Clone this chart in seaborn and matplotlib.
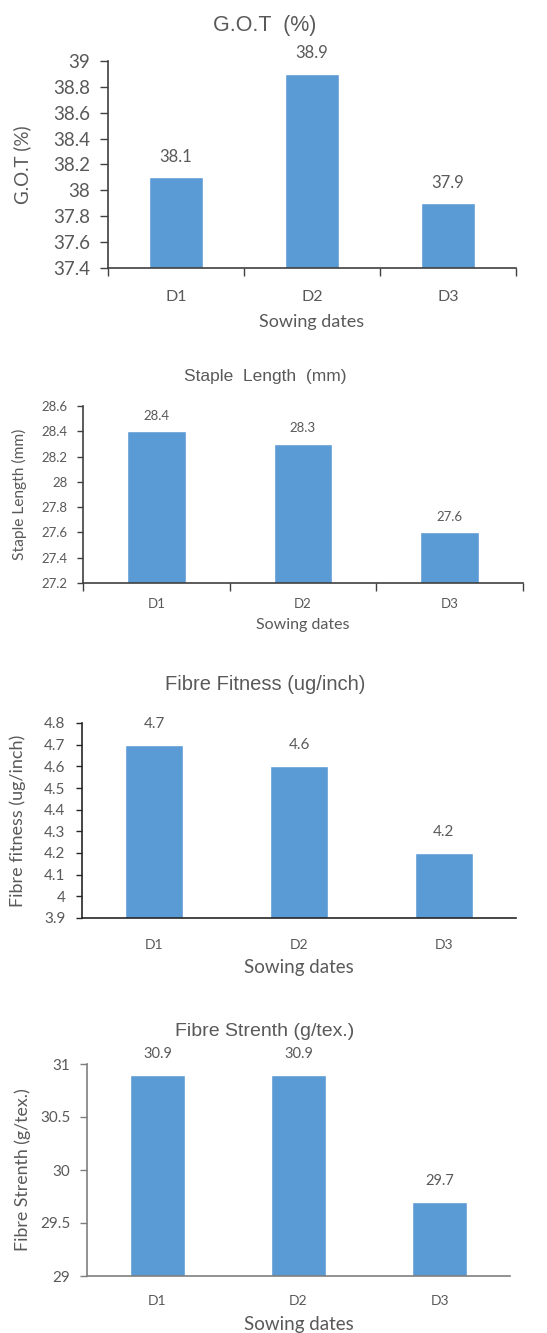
import matplotlib
matplotlib.use('Agg')
from matplotlib import pyplot as plt
import seaborn as sns
import pandas as pd

# ---------- DATA ----------
dates = ['D1', 'D2', 'D3']
got = [38.1, 38.9, 37.9]
staple = [28.4, 28.3, 27.6]
fitness = [4.7, 4.6, 4.2]
strength = [30.9, 30.9, 29.7]

got_ticks = [37.4, 37.6, 37.8, 38, 38.2, 38.4, 38.6, 38.8, 39]
staple_ticks = [27.2, 27.4, 27.6, 27.8, 28, 28.2, 28.4, 28.6]
fitness_ticks = [3.9, 4, 4.1, 4.2, 4.3, 4.4, 4.5, 4.6, 4.7, 4.8]
strength_ticks = [29, 29.5, 30, 30.5, 31]

BAR = '#5B9BD5'
TXT = '#595959'

sns.set_theme(style='white')
plt.rcParams['font.family'] = ['Lato', 'DejaVu Sans']

fig = plt.figure(figsize=(5.47, 13.33), dpi=100)
W, H = 547, 1333


def fmt(v):
    return f'{v:g}'


def panel(box, values, ticks, title, ylabel, title_y, o):
    # box in pixels: left, right, top, bottom
    l, r, t, b = box
    ax = fig.add_axes([l / W, 1 - b / H, (r - l) / W, (b - t) / H])
    df = pd.DataFrame({'date': dates, 'val': values})
    sns.barplot(data=df, x='date', y='val', color=BAR, width=o['bw'],
                saturation=1, ax=ax)
    ax.set_ylim(ticks[0], ticks[-1])
    ax.set_yticks(ticks)
    ax.set_yticklabels([fmt(v) for v in ticks])
    ax.set_xlim(-0.5, 2.5)
    for s in ['top', 'right']:
        ax.spines[s].set_visible(False)
    for s in ['left', 'bottom']:
        ax.spines[s].set_color(o['spine'])
        ax.spines[s].set_linewidth(1.2)
    ax.tick_params(axis='y', direction='out', length=o['ytl'], width=1,
                   color=o['spine'], pad=o['ypad'], labelsize=o['yfs'],
                   labelcolor=TXT, left=True)
    ax.tick_params(axis='x', which='major', length=0, pad=o['xpad'],
                   labelsize=o['xfs'], labelcolor=TXT)
    if o['xminor']:
        ax.set_xticks([-0.5, 0.5, 1.5, 2.5], minor=True)
        ax.tick_params(axis='x', which='minor', direction='out', length=6,
                       width=1, color=o['spine'], bottom=True)
    ax.bar_label(ax.containers[0], labels=[fmt(v) for v in values],
                 padding=o['vpad'], fontsize=o['vfs'], color=TXT)
    ax.set_xlabel('Sowing dates', fontsize=o['xlfs'], color=TXT, va='top')
    ax.xaxis.set_label_coords(0.5, o['xly'])
    ax.set_ylabel(ylabel, fontsize=o['ylfs'], color=TXT, va='center')
    ax.yaxis.set_label_coords(o['ylx'], 0.5)
    fig.text(265 / W, 1 - title_y / H, title, ha='center', va='center',
             fontsize=o['tfs'], color=TXT, family='Liberation Sans')
    return ax


panel((108, 516, 61, 268), got, got_ticks, 'G.O.T  (%)', 'G.O.T (%)', 25,
      dict(bw=0.4, spine='#404040', ytl=6, ypad=7, yfs=13.5, xpad=16, xfs=11.5,
           xminor=True, vpad=9, vfs=12, xlfs=13, xly=-0.22, ylx=-0.21,
           ylfs=13.5, tfs=15.5))

panel((83, 523, 406, 583), staple, staple_ticks, 'Staple  Length  (mm)',
      'Staple Length (mm)', 376,
      dict(bw=0.4, spine='#404040', ytl=4, ypad=7, yfs=9.5, xpad=11, xfs=9.5,
           xminor=True, vpad=7, vfs=9.5, xlfs=11.5, xly=-0.2, ylx=-0.145,
           ylfs=11.2, tfs=12.5))

panel((82, 516, 723, 918), fitness, fitness_ticks, 'Fibre Fitness (ug/inch)',
      'Fibre fitness (ug/inch)', 685,
      dict(bw=0.4, spine='#262626', ytl=4, ypad=8, yfs=11, xpad=15, xfs=10,
           xminor=False, vpad=10, vfs=11, xlfs=13.5, xly=-0.21, ylx=-0.147,
           ylfs=13, tfs=14.5))

panel((87, 510, 1064, 1276), strength, strength_ticks, 'Fibre Strenth (g/tex.)',
      'Fibre Strenth (g/tex.)', 1032,
      dict(bw=0.39, spine='#7f7f7f', ytl=5, ypad=7, yfs=11, xpad=14, xfs=10,
           xminor=False, vpad=10, vfs=10.5, xlfs=13.5, xly=-0.19, ylx=-0.151,
           ylfs=12.8, tfs=14))

fig.savefig('out.png', dpi=100)
